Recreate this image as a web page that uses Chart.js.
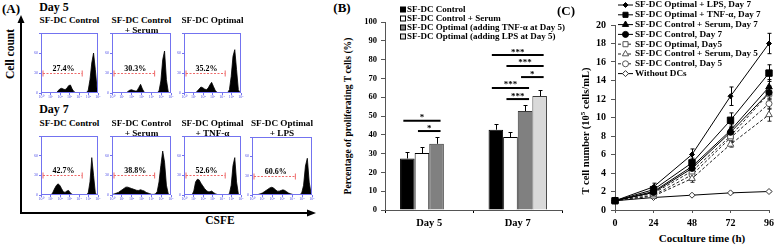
<!DOCTYPE html>
<html><head><meta charset="utf-8">
<script src="https://cdn.jsdelivr.net/npm/chart.js@4.4.1/dist/chart.umd.min.js"></script>
<style>
html,body{margin:0;padding:0;background:#fff;}
#fig{position:relative;width:777px;height:247px;overflow:hidden;background:#fff;font-family:'Liberation Serif','Times New Roman',serif;font-weight:bold;color:#000;}
.t{position:absolute;white-space:nowrap;line-height:1;transform:translate(-50%,-50%);}
.t.rot{transform:translate(-50%,-50%) rotate(-90deg);}
#fig canvas{position:absolute;}
#fig svg{position:absolute;left:0;top:0;}
</style></head><body>
<div id="fig">
<svg width="777" height="247">
  <line x1="21" y1="213" x2="21" y2="22" stroke="#000" stroke-width="2"/>
  <polygon points="21,15 17.5,23 24.5,23" fill="#000"/>
  <line x1="20" y1="213" x2="308" y2="213" stroke="#000" stroke-width="2"/>
  <polygon points="316,213 307,209.5 307,216.5" fill="#000"/>
</svg>
</div>
<script>
// ================= DATA =================
// Panel A : CFSE histograms (counts per channel bin, 32 bins)
const day5Conditions = [['SF-DC Control'], ['SF-DC Control', '+ Serum'], ['SF-DC Optimal']];
const day7Conditions = [['SF-DC Control'], ['SF-DC Control', '+ Serum'], ['SF-DC Optimal', '+ TNF-α'], ['SF-DC Optimal', '+ LPS']];
const day5Proliferating = ['27.4%', '30.3%', '35.2%'];
const day7Proliferating = ['42.7%', '38.8%', '52.6%', '60.6%'];
const histXTickLabels = ['10⁰', '10¹', '10²', '10³', '10⁴', '10⁵', '10⁶'];
const histYTicks = [0, 30, 60, 90];
const histYTickLabels = ['0', '30', '60', ''];
const gateRange = [0, 740];
const gateLevel = 30;
const histD5Control = [0,0,0,0,0,0,0,0,0,3,6,7,6,5,7,11,12,6,2,0.5,0.3,0.3,0.3,0.3,0.3,0.5,4,20,45,60,35,5];
const histD5Serum   = [0,0,0,0,0,0,0,0,2,4,5,4,3,3,8,13,6,1,0.3,0.3,0.3,0.3,0.3,0.3,0.5,3,18,50,63,20,2,0];
const histD5Optimal = [0,0,0,0,0,0,0,3,6,9,8,6,5,7,12,16,10,4,1,0.3,0.3,0.3,0.3,0.3,0.5,5,25,55,65,35,5,0];
const histD7Control = [0,0,0,0,0,0,3,9,14,17,15,10,5,4,6,7,3,1,0.3,0.3,0.3,0.3,0.3,0.3,0.3,0.5,3,20,57,30,3,0];
const histD7Serum   = [1,2,3,4,6,8,10,12,12,11,10,9,8,7,7,8,7,6,4,3,2,1,1,1.5,5,20,45,67,50,15,2,0];
const histD7TNF     = [0,0,0,0,0,6,20,24,23,18,14,10,7,5,5,6,4,2,1,0.3,0.3,0.3,0.3,0.3,0.3,2,15,45,57,20,2,0];
const histD7LPS     = [0,0,0,1,2,3,5,7,9,11,12,11,8,6,6,7,8,7,5,3,2,1,0.5,0.5,0.5,0.5,3,15,45,57,20,2];

// Panel B : percentage of proliferating T cells
const bCategories = ['Day 5', 'Day 7'];
const bSeriesNames = ['SF-DC Control', 'SF-DC Control + Serum', 'SF-DC Optimal (adding TNF-α at Day 5)', 'SF-DC Optimal (adding LPS at Day 5)'];
const bControl = [27.4, 42.7];
const bSerum = [30.3, 38.8];
const bTNF = [35.2, 52.6];
const bLPS = [null, 60.6];
const bControlErr = [3.3, 3.2];
const bSerumErr = [3.0, 2.6];
const bTNFErr = [3.4, 3.0];
const bLPSErr = [null, 3.4];
const bSigCategory = [0, 0, 1, 1, 1, 1, 1];
const bSigFrom = [0, 1, 0, 1, 2, 0, 1];
const bSigTo = [2, 2, 3, 3, 3, 2, 2];
const bSigLevel = [47.5, 42, 82.4, 76.6, 70.7, 64.9, 59];
const bSigLabel = ['*', '*', '***', '***', '*', '***', '***'];

// Panel C : T cell number (10^5 cells/mL)
const cTime = [0, 24, 48, 72, 96];
const cNames = ['SF-DC Optimal + LPS, Day 7', 'SF-DC Optimal + TNF-α, Day 7', 'SF-DC Control + Serum, Day 7', 'SF-DC Control, Day 7', 'SF-DC Optimal, Day5', 'SF-DC Control + Serum, Day 5', 'SF-DC Control, Day 5', 'Without DCs'];
const cLPS7 = [1.0, 2.5, 6.0, 12.3, 18.0];
const cTNF7 = [1.0, 2.2, 5.1, 9.7, 14.8];
const cSerum7 = [1.0, 2.0, 4.7, 8.6, 13.3];
const cControl7 = [1.0, 1.9, 4.5, 8.4, 12.7];
const cOptimal5 = [1.0, 1.8, 4.2, 8.0, 12.6];
const cSerum5 = [1.0, 1.5, 3.4, 7.1, 10.3];
const cControl5 = [1.0, 1.6, 3.8, 7.8, 11.5];
const cNoDC = [1.0, 1.35, 1.6, 1.85, 2.0];
const cLPS7Err = [0, 0.4, 0.6, 1.0, 1.1];
const cTNF7Err = [0, 0.35, 0.5, 0.8, 0.9];
const cSerum7Err = [0, 0.3, 0.5, 0.6, 0.8];
const cControl7Err = [0, 0.3, 0.4, 0.6, 0.7];
const cOptimal5Err = [0, 0.3, 0.4, 0.5, 0.7];
const cSerum5Err = [0, 0.25, 0.4, 0.3, 0.7];
const cControl5Err = [0, 0.3, 0.4, 0.5, 0.6];
const cNoDCErr = [0, 0.05, 0.05, 0.05, 0.05];

// ================= RENDER =================
const FONT = "'Liberation Serif','Times New Roman',serif";
Chart.defaults.font.family = FONT;
Chart.defaults.font.weight = 'bold';
Chart.defaults.color = '#000';
const fig = document.getElementById('fig');

function addText(html, cx, cy, size, rot) {
  const d = document.createElement('div');
  d.className = 't' + (rot ? ' rot' : '');
  d.innerHTML = html;
  d.style.left = cx + 'px'; d.style.top = cy + 'px'; d.style.fontSize = size + 'px';
  fig.appendChild(d); return d;
}
function addCanvas(left, top, w, h) {
  const c = document.createElement('canvas');
  c.width = w; c.height = h;
  c.style.left = left + 'px'; c.style.top = top + 'px';
  c.style.width = w + 'px'; c.style.height = h + 'px';
  fig.appendChild(c); return c;
}
function drawMarker(ctx, style, x, y, r, fill, stroke) {
  ctx.save();
  ctx.beginPath();
  if (style === 'circle') { ctx.arc(x, y, r, 0, Math.PI * 2); }
  else if (style === 'rect') { const s = Math.SQRT1_2 * r; ctx.rect(x - s, y - s, 2 * s, 2 * s); }
  else if (style === 'rectRot') { ctx.moveTo(x, y - r); ctx.lineTo(x + r, y); ctx.lineTo(x, y + r); ctx.lineTo(x - r, y); ctx.closePath(); }
  else if (style === 'triangle') { ctx.moveTo(x, y - r); ctx.lineTo(x + r * 0.866, y + r * 0.5); ctx.lineTo(x - r * 0.866, y + r * 0.5); ctx.closePath(); }
  ctx.fillStyle = fill; ctx.fill();
  ctx.strokeStyle = stroke; ctx.lineWidth = 1; ctx.stroke();
  ctx.restore();
}

// ---------- Panel A ----------
addText('(A)', 11, 8, 13);
addText('Day 5', 54, 7, 12);
addText('Day 7', 54, 109, 12);
addText('Cell count', 11, 54, 11.5, true);
addText('CSFE', 220, 221, 11.5);

const histPlugin = {
  id: 'histDecor',
  afterDatasetsDraw(chart, args, opts) {
    const { ctx, chartArea: a, scales: { x, y } } = chart;
    ctx.save();
    ctx.strokeStyle = '#7373f0'; ctx.lineWidth = 1;
    ctx.strokeRect(a.left + 0.5, a.top + 0.5, a.right - a.left - 1, a.bottom - a.top - 1);
    const x0 = x.getPixelForValue(gateRange[0]) + 2, x1 = x.getPixelForValue(gateRange[1]);
    const yy = Math.round(y.getPixelForValue(gateLevel)) + 0.5;
    ctx.strokeStyle = '#ee6a6a';
    ctx.setLineDash([2, 1.5]);
    ctx.beginPath(); ctx.moveTo(x0, yy); ctx.lineTo(x1, yy); ctx.stroke();
    ctx.setLineDash([]);
    ctx.beginPath(); ctx.moveTo(x0, yy - 3); ctx.lineTo(x0, yy + 3); ctx.moveTo(x1, yy - 3); ctx.lineTo(x1, yy + 3); ctx.stroke();
    ctx.fillStyle = '#000'; ctx.font = 'bold 8px ' + FONT;
    ctx.textAlign = 'center'; ctx.textBaseline = 'alphabetic';
    ctx.fillText(opts.label, (x0 + x1) / 2 + 1, yy - 2.5);
    ctx.restore();
  }
};

function histChart(box, counts, label) {
  const [bl, bt, bw, bh] = box;
  const cv = addCanvas(bl - 8, bt - 1, bw + 13, bh + 8);
  const binW = 1024 / counts.length;
  const pts = [{ x: 0, y: 0 }].concat(counts.map((c, i) => ({ x: (i + 0.5) * binW, y: c })), [{ x: 1024, y: 0 }]);
  new Chart(cv, {
    type: 'line',
    data: { datasets: [{ data: pts, borderColor: '#000', backgroundColor: '#000', fill: 'origin', borderWidth: 0.8, pointRadius: 0, tension: 0 }] },
    options: {
      animation: false, responsive: false, devicePixelRatio: 1,
      layout: { padding: { top: 1, right: 5, left: 0, bottom: 0 } },
      plugins: { legend: { display: false }, tooltip: { enabled: false }, histDecor: { label } },
      scales: {
        x: {
          type: 'linear', min: 0, max: 1024,
          afterBuildTicks: s => { s.ticks = histXTickLabels.map((_, i) => ({ value: i * 1024 / (histXTickLabels.length - 1) })); },
          ticks: { font: { size: 4, weight: 'normal' }, color: '#5050e8', padding: 0, maxRotation: 0, autoSkip: false, callback: (v, i) => histXTickLabels[i] },
          grid: { drawOnChartArea: false, tickLength: 2, color: '#7373f0' },
          border: { display: false },
          afterFit: s => { s.height = 7; s.paddingLeft = 0; s.paddingRight = 0; }
        },
        y: {
          min: 0, max: 90,
          afterBuildTicks: s => { s.ticks = histYTicks.map(v => ({ value: v })); },
          ticks: { font: { size: 4, weight: 'normal' }, color: '#5050e8', padding: 1, autoSkip: false, callback: (v, i) => histYTickLabels[i] },
          grid: { drawOnChartArea: false, tickLength: 2, color: '#7373f0' },
          border: { display: false },
          afterFit: s => { s.width = 8; s.paddingTop = 0; s.paddingBottom = 0; }
        }
      }
    },
    plugins: [histPlugin]
  });
}

const day5Boxes = [[41, 33, 57, 60], [112, 33, 59, 60], [184, 33, 57, 60]];
const day7Boxes = [[41, 136, 57, 59], [112, 136, 59, 59], [184, 136, 57, 59], [252, 137, 60, 58]];
const day5Hists = [histD5Control, histD5Serum, histD5Optimal];
const day7Hists = [histD7Control, histD7Serum, histD7TNF, histD7LPS];
day5Boxes.forEach((b, i) => {
  histChart(b, day5Hists[i], day5Proliferating[i]);
  day5Conditions[i].forEach((ln, k) => addText(ln, b[0] + b[2] / 2, 21 + k * 10, 9.2));
});
day7Boxes.forEach((b, i) => {
  histChart(b, day7Hists[i], day7Proliferating[i]);
  day7Conditions[i].forEach((ln, k) => addText(ln, b[0] + b[2] / 2, 124 + k * 10, 9.2));
});

// ---------- Panel B ----------
addText('(B)', 342, 7, 13);
addText('Percentage of proliferating T cells (%)', 348, 116, 9.6, true);

const bFill = ['#000000', '#ffffff', '#808080', '#d9d9d9'];
const bBorder = ['#000000', '#000000', '#3a3a3a', '#3a3a3a'];
const bData = [bControl, bSerum, bTNF, bLPS];
const bErr = [bControlErr, bSerumErr, bTNFErr, bLPSErr];

const bPlugin = {
  id: 'bDecor',
  afterDatasetsDraw(chart) {
    const ctx = chart.ctx, y = chart.scales.y;
    ctx.save();
    chart.data.datasets.forEach((ds, di) => {
      chart.getDatasetMeta(di).data.forEach((el, i) => {
        const v = ds.data[i], e = ds.errors[i];
        if (v == null || e == null) return;
        const top = Math.round(y.getPixelForValue(v + e)) + 0.5, base = y.getPixelForValue(v);
        const xx = Math.round(el.x) + 0.5;
        ctx.strokeStyle = '#000'; ctx.lineWidth = 1;
        ctx.beginPath(); ctx.moveTo(xx, base); ctx.lineTo(xx, top);
        ctx.moveTo(xx - 2, top); ctx.lineTo(xx + 2, top); ctx.stroke();
      });
    });
    bSigLevel.forEach((lv, k) => {
      const a = chart.getDatasetMeta(bSigFrom[k]).data[bSigCategory[k]].x - 4;
      const b = chart.getDatasetMeta(bSigTo[k]).data[bSigCategory[k]].x + 4;
      const yy = y.getPixelForValue(lv);
      ctx.strokeStyle = '#000'; ctx.lineWidth = 2;
      ctx.beginPath(); ctx.moveTo(a, yy); ctx.lineTo(b, yy); ctx.stroke();
      ctx.fillStyle = '#000'; ctx.font = 'bold 9px ' + FONT;
      ctx.textAlign = 'center'; ctx.textBaseline = 'alphabetic';
      ctx.fillText(bSigLabel[k], (a + b) / 2, yy - 0.5);
    });
    const rows = [10, 19, 28, 37];
    bSeriesNames.forEach((nm, i) => {
      const yy = rows[i];
      ctx.fillStyle = bFill[i]; ctx.fillRect(70.5, yy - 3, 5, 5);
      ctx.strokeStyle = '#000'; ctx.lineWidth = 1; ctx.strokeRect(70.5, yy - 3, 5, 5);
      ctx.fillStyle = '#000'; ctx.font = 'bold 9px ' + FONT;
      ctx.textAlign = 'left'; ctx.textBaseline = 'middle';
      ctx.fillText(nm, 77, yy);
    });
    ctx.restore();
  }
};

new Chart(addCanvas(330, 0, 235, 247), {
  type: 'bar',
  data: {
    labels: bCategories,
    datasets: bSeriesNames.map((nm, i) => ({ label: nm, data: bData[i], errors: bErr[i], backgroundColor: bFill[i], borderColor: bBorder[i], borderWidth: 1 }))
  },
  options: {
    animation: false, responsive: false, devicePixelRatio: 1,
    layout: { padding: { left: 0, top: 22, right: 3, bottom: 0 } },
    plugins: { legend: { display: false }, tooltip: { enabled: false } },
    datasets: { bar: { barPercentage: 1, categoryPercentage: 0.66 } },
    scales: {
      x: {
        grid: { drawOnChartArea: false, tickLength: 3, color: '#000', offset: true },
        border: { color: '#555', width: 1 },
        ticks: { font: { size: 10.5, weight: 'bold' }, color: '#000', padding: 4 },
        afterFit: s => { s.height = 37; s.paddingLeft = 0; s.paddingRight = 0; }
      },
      y: {
        min: 0, max: 100,
        ticks: { stepSize: 10, font: { size: 8.5, weight: 'bold' }, color: '#000', padding: 4 },
        grid: { drawOnChartArea: false, tickLength: 4, color: '#555' },
        border: { color: '#555', width: 1 },
        afterFit: s => { s.width = 55; s.paddingTop = 0; s.paddingBottom = 0; }
      }
    }
  },
  plugins: [bPlugin]
});

// ---------- Panel C ----------
addText('(C)', 566, 10, 13);
addText('T cell number (10<sup style="font-size:7px;vertical-align:4px">5</sup> cells/mL)', 586, 131, 10.5, true);
addText('Coculture time (h)', 702, 238, 11);

const cData = [cLPS7, cTNF7, cSerum7, cControl7, cOptimal5, cSerum5, cControl5, cNoDC];
const cErr = [cLPS7Err, cTNF7Err, cSerum7Err, cControl7Err, cOptimal5Err, cSerum5Err, cControl5Err, cNoDCErr];
const cStyle = [
  { ps: 'rectRot', r: 2.5, fill: '#000', stroke: '#000', dash: [], line: '#000' },
  { ps: 'rect', r: 4.5, fill: '#000', stroke: '#000', dash: [], line: '#000' },
  { ps: 'triangle', r: 3.8, fill: '#000', stroke: '#000', dash: [], line: '#000' },
  { ps: 'circle', r: 3, fill: '#000', stroke: '#000', dash: [], line: '#000' },
  { ps: 'rect', r: 4, fill: '#fff', stroke: '#555', dash: [3, 2], line: '#222' },
  { ps: 'triangle', r: 3.8, fill: '#fff', stroke: '#555', dash: [3, 2], line: '#222' },
  { ps: 'circle', r: 3, fill: '#fff', stroke: '#555', dash: [3, 2], line: '#222' },
  { ps: 'rectRot', r: 3, fill: '#fff', stroke: '#333', dash: [], line: '#000' }
];

const cPlugin = {
  id: 'cDecor',
  beforeDatasetsDraw(chart) {
    const ctx = chart.ctx, y = chart.scales.y;
    ctx.save();
    chart.data.datasets.forEach((ds, di) => {
      chart.getDatasetMeta(di).data.forEach((el, i) => {
        const v = ds.data[i].y, e = ds.errors[i];
        if (!e) return;
        const t = y.getPixelForValue(v + e), b = y.getPixelForValue(v - e);
        const xx = Math.round(el.x) + 0.5;
        ctx.strokeStyle = cStyle[di].line; ctx.lineWidth = 1;
        ctx.beginPath(); ctx.moveTo(xx, t); ctx.lineTo(xx, b);
        ctx.moveTo(xx - 2, t); ctx.lineTo(xx + 2, t);
        ctx.moveTo(xx - 2, b); ctx.lineTo(xx + 2, b); ctx.stroke();
      });
    });
    ctx.restore();
  },
  afterDraw(chart) {
    const ctx = chart.ctx;
    ctx.save();
    cNames.forEach((nm, i) => {
      const yy = 5 + i * 9.8, st = cStyle[i];
      ctx.strokeStyle = st.line; ctx.lineWidth = 1; ctx.setLineDash(st.dash);
      ctx.beginPath(); ctx.moveTo(58, yy); ctx.lineTo(73, yy); ctx.stroke();
      ctx.setLineDash([]);
      drawMarker(ctx, st.ps, 65.5, yy, Math.min(st.r, 3.6), st.fill, st.stroke);
      ctx.fillStyle = '#000'; ctx.font = 'bold 9.2px ' + FONT;
      ctx.textAlign = 'left'; ctx.textBaseline = 'middle';
      ctx.fillText(nm, 75, yy);
    });
    ctx.restore();
  }
};

new Chart(addCanvas(560, 0, 217, 247), {
  type: 'line',
  data: {
    datasets: cNames.map((nm, i) => ({
      label: nm,
      data: cTime.map((t, k) => ({ x: t, y: cData[i][k] })),
      errors: cErr[i],
      borderColor: cStyle[i].line, borderWidth: 1, borderDash: cStyle[i].dash,
      pointStyle: cStyle[i].ps, pointRadius: cStyle[i].r,
      pointBackgroundColor: cStyle[i].fill, pointBorderColor: cStyle[i].stroke, pointBorderWidth: 1,
      fill: false, tension: 0, clip: false
    }))
  },
  options: {
    animation: false, responsive: false, devicePixelRatio: 1,
    layout: { padding: { left: 0, top: 25, right: 8, bottom: 0 } },
    plugins: { legend: { display: false }, tooltip: { enabled: false } },
    scales: {
      x: {
        type: 'linear', min: 0, max: 96,
        ticks: { stepSize: 24, font: { size: 10, weight: 'bold' }, color: '#000', padding: 4 },
        grid: { drawOnChartArea: false, tickLength: 3, color: '#555' },
        border: { color: '#555', width: 1 },
        afterFit: s => { s.height = 37; s.paddingLeft = 0; s.paddingRight = 0; }
      },
      y: {
        min: 0, max: 20,
        ticks: { stepSize: 2, font: { size: 10, weight: 'bold' }, color: '#000', padding: 5 },
        grid: { drawOnChartArea: false, tickLength: 4, color: '#555' },
        border: { color: '#555', width: 1 },
        afterFit: s => { s.width = 55; s.paddingTop = 0; s.paddingBottom = 0; }
      }
    }
  },
  plugins: [cPlugin]
});
</script>
</body></html>
